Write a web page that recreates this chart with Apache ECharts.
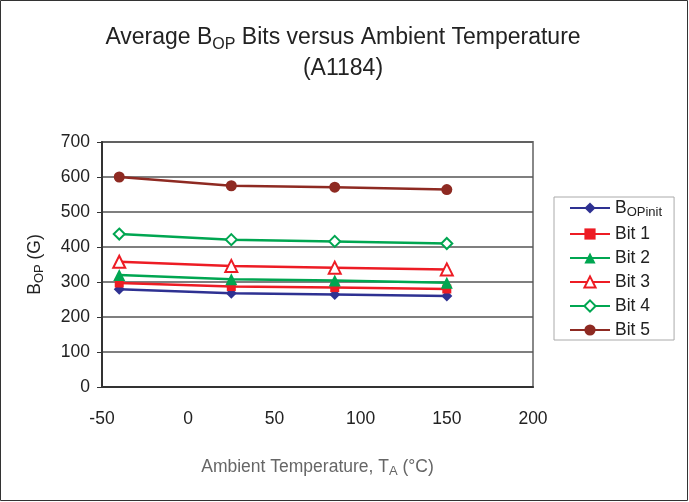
<!DOCTYPE html>
<html><head><meta charset="utf-8">
<script src="https://cdn.jsdelivr.net/npm/echarts@6/dist/echarts.min.js"></script>
<style>html,body{margin:0;padding:0;background:#fff}#c{width:689px;height:502px}</style>
</head><body><div id="c"></div>
<script>
const temps = [-40, 25, 85, 150];
const bopInit = [279, 268, 264, 260];
const bit1 = [297, 287, 284, 280];
const bit2 = [320, 308, 304, 298];
const bit3 = [358, 346, 341, 336];
const bit4 = [437, 421, 416, 410];
const bit5 = [600, 575, 571, 564];
const xTicks = [-50, 0, 50, 100, 150, 200];
const yTicks = [0, 100, 200, 300, 400, 500, 600, 700];

const F = 'Liberation Sans, Arial, sans-serif';
const pair = v => temps.map((t, i) => [t, v[i]]);
const chart = echarts.init(document.getElementById('c'));
const mk = (name, data, color, symbol, size, hollow) => ({
  name, type: 'line', data: pair(data), symbol, symbolSize: size,
  lineStyle: {color, width: 2.5}, itemStyle: {color: hollow ? '#fff' : color, borderColor: color, borderWidth: hollow ? 2 : 0},
  color: color, z: 3
});
chart.setOption({
  animation: false,
  backgroundColor: '#fff',
  title: {
    text: '{a|Average B}{s|OP}{a| Bits versus Ambient Temperature}\n{a|(A1184)}',
    left: 338, textAlign: 'center', top: 17,
    textStyle: {
      fontWeight: 'normal',
      rich: {
        a: {fontFamily: F, fontSize: 23, fontWeight: 'normal', color: '#222', lineHeight: 31},
        s: {fontFamily: F, fontSize: 16, fontWeight: 'normal', color: '#222', verticalAlign: 'bottom', padding: [9, 0, 0, 0], lineHeight: 31}
      }
    }
  },
  legend: {
    orient: 'vertical', left: 554, top: 197,
    padding: [2, 12, 1, 15], itemGap: 6, itemWidth: 40, itemHeight: 14,
    borderColor: '#aaa', borderWidth: 1, borderRadius: 0,
    textStyle: {fontFamily: F, fontSize: 17.5, color: '#222',
      rich: {b: {fontFamily: F, fontSize: 17.5, color: '#222'}, s: {fontFamily: F, fontSize: 13, color: '#222', verticalAlign: 'bottom', padding: [9, 0, 0, 0]}}},
    formatter: n => n === 'BOPinit' ? '{b|B}{s|OPinit}' : n,
    data: ['BOPinit', 'Bit 1', 'Bit 2', 'Bit 3', 'Bit 4', 'Bit 5']
  },
  graphic: [{type: 'rect', shape: {x: 0.5, y: 0.5, width: 687, height: 500}, style: {fill: 'none', stroke: '#333', lineWidth: 1}, silent: true}],
  grid: {left: 102, right: 156, top: 142, bottom: 115, show: true, borderColor: '#888', borderWidth: 2, backgroundColor: 'transparent'},
  xAxis: {
    type: 'value', min: -50, max: 200, interval: 50,
    name: '{a|Ambient Temperature, T}{s|A}{a| (°C)}', nameLocation: 'middle', nameGap: 70,
    nameTextStyle: {rich: {a: {fontFamily: F, fontSize: 17.5, color: '#666'}, s: {fontFamily: F, fontSize: 13, color: '#666', verticalAlign: 'bottom', padding: [8, 0, 0, 0]}}},
    axisLine: {onZero: false, lineStyle: {color: '#333', width: 2}}, axisTick: {show: false},
    splitLine: {show: false},
    axisLabel: {fontFamily: F, fontSize: 17.5, color: '#222', margin: 23,
      customValues: xTicks, formatter: v => String(v)}
  },
  yAxis: {
    type: 'value', min: 0, max: 700, interval: 100,
    name: '{a|B}{s|OP}{a| (G)}', nameLocation: 'middle', nameGap: 56, nameRotate: 90,
    nameTextStyle: {rich: {a: {fontFamily: F, fontSize: 17.5, color: '#222'}, s: {fontFamily: F, fontSize: 13, color: '#222', verticalAlign: 'bottom', padding: [8, 0, 0, 0]}}},
    axisLine: {show: true, onZero: false, lineStyle: {color: '#333', width: 2}},
    axisTick: {show: true, length: 5, inside: false, lineStyle: {color: '#333'}},
    splitLine: {show: true, lineStyle: {color: '#555', width: 1.5}},
    axisLabel: {fontFamily: F, fontSize: 17.5, color: '#222', margin: 12, customValues: yTicks}
  },
  series: [
    mk('BOPinit', bopInit, '#2E3192', 'diamond', 11, false),
    mk('Bit 1', bit1, '#ED1C24', 'rect', 9, false),
    mk('Bit 2', bit2, '#00A651', 'triangle', 12, false),
    mk('Bit 3', bit3, '#ED1C24', 'triangle', 12, true),
    mk('Bit 4', bit4, '#00A651', 'diamond', 11, true),
    mk('Bit 5', bit5, '#8E2A22', 'circle', 11, false)
  ]
});
</script></body></html>
